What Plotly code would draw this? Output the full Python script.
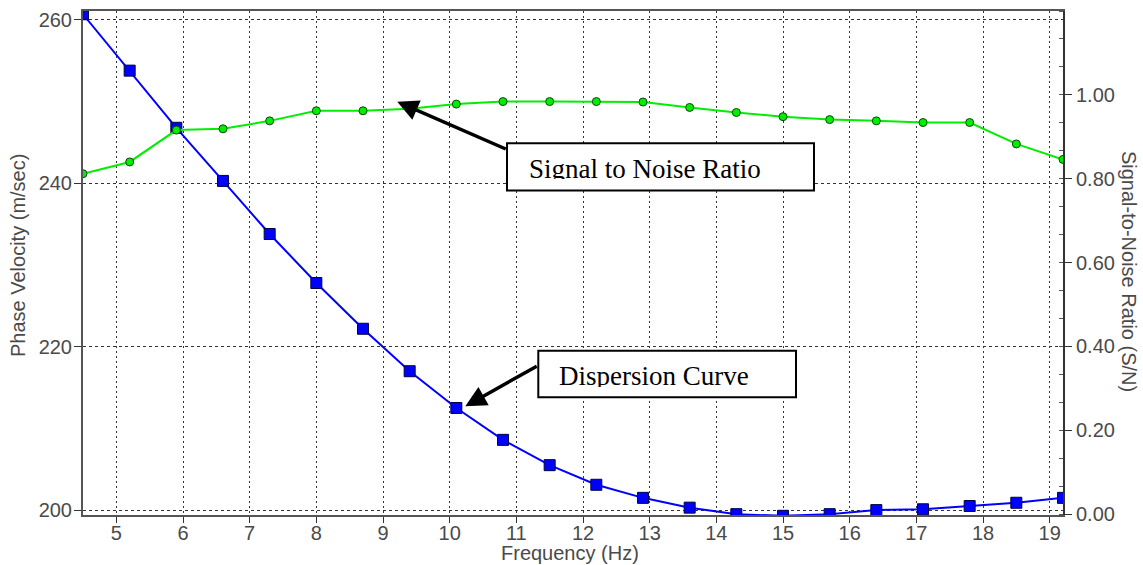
import plotly.graph_objects as go

# ---- data ----
freq = [4.5, 5.2, 5.9, 6.6, 7.3, 8.0, 8.7, 9.4, 10.1, 10.8, 11.5, 12.2,
        12.9, 13.6, 14.3, 15.0, 15.7, 16.4, 17.1, 17.8, 18.5, 19.2]
velocity = [260.7, 253.8, 246.8, 240.3, 233.8, 227.8, 222.2, 217.0, 212.5, 208.6, 205.5, 203.1,
            201.5, 200.3, 199.5, 199.3, 199.5, 200.0, 200.1, 200.5, 200.9, 201.5]
snr = [0.812, 0.840, 0.916, 0.919, 0.938, 0.962, 0.962, 0.967, 0.978, 0.984, 0.984, 0.984,
       0.983, 0.970, 0.958, 0.948, 0.941, 0.938, 0.934, 0.934, 0.883, 0.846]

x_ticks = list(range(5, 20))
vel_ticks = [200, 220, 240, 260]
snr_ticks = [0.0, 0.2, 0.4, 0.6, 0.8, 1.0]

x_title = "Frequency (Hz)"
y_title = "Phase Velocity (m/sec)"
y2_title = "Signal-to-Noise Ratio (S/N)"
label_snr = "Signal to Noise Ratio"
label_disp = "Dispersion Curve"

# ---- layout geometry (pixels) ----
W, H = 1143, 565
L, R, T, B = 83, 80, 9, 50
PW, PH = W - L - R, H - T - B


def px(xp):
    return (xp - L) / PW


def py(yp):
    return (H - B - yp) / PH


TICKFONT = dict(family="Liberation Sans, Arial, sans-serif", size=20, color="#4a4a4a")
SERIF = dict(family="Liberation Serif, Times New Roman, serif", size=27, color="black")

fig = go.Figure()

fig.add_trace(go.Scatter(
    x=freq, y=velocity, mode="lines+markers", name="Dispersion",
    line=dict(color="#0000ff", width=2),
    marker=dict(symbol="square", size=11, color="#0000ff", line=dict(color="#000044", width=1)),
    yaxis="y",
))
fig.add_trace(go.Scatter(
    x=freq, y=snr, mode="lines+markers", name="S/N",
    line=dict(color="#00ee00", width=2),
    marker=dict(symbol="circle", size=8, color="#00ee00", line=dict(color="#114411", width=1)),
    yaxis="y2",
))

grid_common = dict(showgrid=True, gridcolor="#333333", gridwidth=1)

fig.update_layout(
    width=W, height=H,
    margin=dict(l=L, r=R, t=T, b=B),
    paper_bgcolor="white", plot_bgcolor="white",
    showlegend=False,
    xaxis=dict(
        range=[4.5, 19.2], tickvals=x_ticks, ticks="outside", ticklen=6, tickwidth=1,
        tickcolor="#333333", tickfont=TICKFONT, ticklabelstandoff=-7,
        showline=True, linecolor="#555555", linewidth=2, mirror=True,
        griddash="2px,3px", zeroline=False, **grid_common,
    ),
    yaxis=dict(
        range=[199.4, 261.1], tickvals=vel_ticks, ticks="outside", ticklen=7, tickwidth=1,
        tickcolor="#333333", tickfont=TICKFONT, ticklabelstandoff=-2,
        showline=True, linecolor="#555555", linewidth=2,
        griddash="3px,3px", zeroline=False, **grid_common,
    ),
    yaxis2=dict(
        range=[-0.002, 1.2], tickvals=snr_ticks, tickformat=".2f", overlaying="y", side="right",
        ticks="outside", ticklen=7, tickwidth=1, tickcolor="#333333", tickfont=TICKFONT,
        showline=True, linecolor="#333333", linewidth=2, showgrid=False, zeroline=False,
        minor=dict(dtick=0.2 / 3, ticks="inside", ticklen=4, tickcolor="#555555", showgrid=False),
    ),
)

# axis titles
fig.add_annotation(text=x_title, xref="paper", yref="paper", x=px(570), y=py(553),
                   showarrow=False, font=TICKFONT, xanchor="center", yanchor="middle")
fig.add_annotation(text=y_title, xref="paper", yref="paper", x=px(18), y=py(255),
                   showarrow=False, font=TICKFONT, textangle=-90, xanchor="center", yanchor="middle")
fig.add_annotation(text=y2_title, xref="paper", yref="paper", x=px(1129), y=py(270),
                   showarrow=False, font=TICKFONT, textangle=90, xanchor="center", yanchor="middle")

# callout boxes
boxes = [
    dict(l=507, r=814, t=141.7, b=189.3, tx=527.7, base=177, text=label_snr),
    dict(l=538.3, r=796, t=350, b=396.7, tx=558.3, base=385, text=label_disp),
]
for bx in boxes:
    fig.add_shape(type="rect", xref="paper", yref="paper",
                  x0=px(bx["l"]), x1=px(bx["r"]), y0=py(bx["b"]), y1=py(bx["t"]),
                  line=dict(color="black", width=2), fillcolor="white", layer="above")
    fig.add_annotation(text=bx["text"], xref="paper", yref="paper",
                       x=px(bx["tx"]), y=py(bx["base"] + 7), xanchor="left", yanchor="bottom",
                       showarrow=False, font=SERIF, borderpad=0)
    # clip the descenders like the original text box
    fig.add_annotation(text=" ", xref="paper", yref="paper",
                       x=px(bx["l"] + 1.5), y=py(bx["base"] + 1), xanchor="left", yanchor="top",
                       width=bx["r"] - bx["l"] - 3, height=bx["b"] - bx["base"] - 2.5,
                       bgcolor="white", borderpad=0, borderwidth=0, showarrow=False)

# arrows
fig.add_annotation(x=9.214, y=250.0, xref="x", yref="y", text="", showarrow=True,
                   ax=110, ay=48, arrowhead=2, arrowsize=1.2, arrowwidth=3.5, arrowcolor="black")
fig.add_annotation(x=10.234, y=212.7, xref="x", yref="y", text="", showarrow=True,
                   ax=73, ay=-41, arrowhead=2, arrowsize=1.2, arrowwidth=3.5, arrowcolor="black")

fig.write_html("out.html", config={"displayModeBar": False},
               post_script="document.body.style.margin='0';")
